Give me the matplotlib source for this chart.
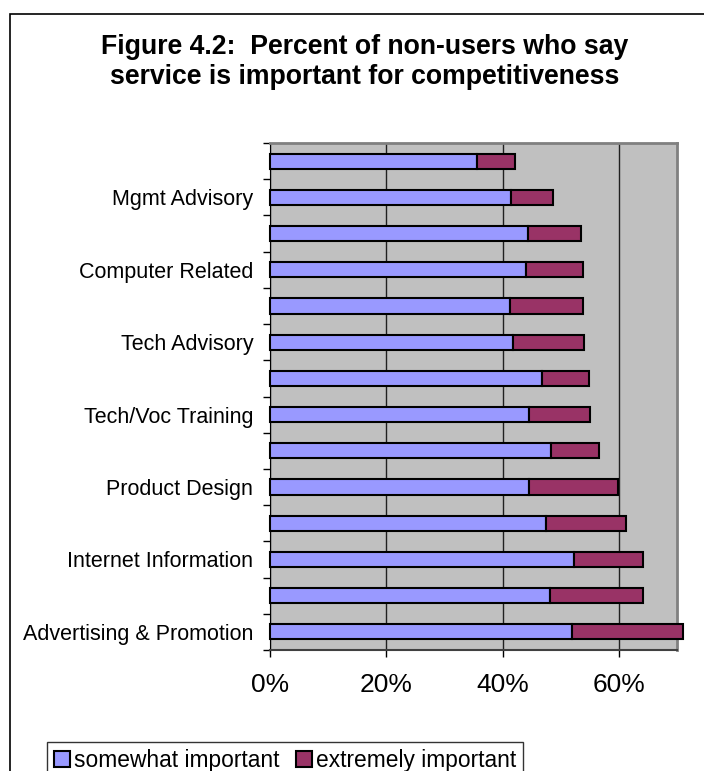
import matplotlib
matplotlib.use("Agg")
import matplotlib.pyplot as plt
import numpy as np
from matplotlib.patches import Rectangle

plt.rcParams['font.family'] = ['Liberation Sans', 'DejaVu Sans']

# categories bottom to top (only every other label is printed on the chart)
labels = ["Advertising & Promotion", "", "Internet Information", "", "Product Design", "",
          "Tech/Voc Training", "", "Tech Advisory", "", "Computer Related", "",
          "Mgmt Advisory", ""]
somewhat = [51.9, 48.2, 52.2, 47.5, 44.6, 48.3, 44.5, 46.7, 41.8, 41.2, 44.1, 44.4, 41.5, 35.6]
extremely = [19.1, 16.0, 11.9, 13.7, 15.3, 8.2, 10.5, 8.1, 12.2, 12.7, 9.7, 9.1, 7.1, 6.5]
xticks = [0, 20, 40, 60]

W, H = 704, 771
fig = plt.figure(figsize=(W / 100, H / 100), dpi=100)
ax = fig.add_axes([270 / W, 1 - 650 / H, (677 - 270) / W, (650 - 143) / H])

y = np.arange(len(labels))
b1 = ax.barh(y, somewhat, height=0.42, color='#9999FF', edgecolor='black', linewidth=1.5,
             label='somewhat important', clip_on=False, zorder=3)
b2 = ax.barh(y, extremely, left=somewhat, height=0.42, color='#993366', edgecolor='black',
             linewidth=1.5, label='extremely important', clip_on=False, zorder=3)

ax.set_facecolor('#C0C0C0')
ax.set_xlim(0, 70)
ax.set_ylim(-0.5, len(labels) - 0.5)

ax.set_xticks(xticks)
ax.set_xticklabels([f"{v}%" for v in xticks], fontsize=19)
ax.tick_params(axis='x', length=5, width=1, pad=11.5, direction='out')
ax.xaxis.grid(True, color='#202020', linewidth=1)
ax.set_axisbelow(True)

ax.set_yticks(y)
ax.set_yticklabels(labels, fontsize=15.5)
ax.set_yticks(np.arange(-0.5, len(labels)), minor=True)
ax.tick_params(axis='y', which='major', length=0, pad=12)
ax.tick_params(axis='y', which='minor', length=5, width=1, direction='out')

for s in ['top', 'right']:
    ax.spines[s].set_color('#808080')
    ax.spines[s].set_linewidth(2)
ax.spines['left'].set_color('black')
ax.spines['bottom'].set_color('#404040')
ax.spines['bottom'].set_linewidth(1.5)

fig.text(365 / W, 1 - 62 / H,
         "Figure 4.2:  Percent of non-users who say\nservice is important for competitiveness",
         ha='center', va='center', fontsize=19.2, fontweight='bold', linespacing=1.2)

leg = fig.legend(handles=[b1, b2], loc='upper left', bbox_to_anchor=(47 / W, 1 - 742 / H),
                 ncol=2, fontsize=16.4, frameon=True, fancybox=False, shadow=False,
                 handlelength=0.7, handleheight=0.7, handletextpad=0.2, columnspacing=0.7,
                 borderpad=0.3, borderaxespad=0)
leg.get_frame().set_edgecolor('black')
leg.get_frame().set_linewidth(1)

# outer chart border
fig.patches.append(Rectangle((10 / W, -0.1), 1.0, (H - 14) / H + 0.1, transform=fig.transFigure,
                             fill=False, edgecolor='black', linewidth=1.2))

fig.savefig('out.png', dpi=100)
